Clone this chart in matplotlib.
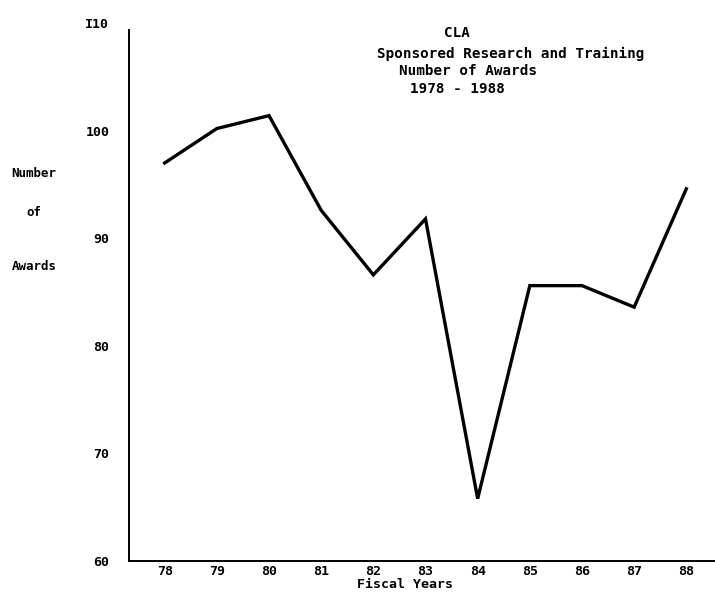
import matplotlib.pyplot as plt

years = [78, 79, 80, 81, 82, 83, 84, 85, 86, 87, 88]
awards = [97.0, 100.2, 101.4, 92.6, 86.6, 91.8, 65.8, 85.6, 85.6, 83.6, 94.6]
ytick_vals = [60, 70, 80, 90, 100, 110]
ytick_labels = ['60', '70', '80', '90', '100', 'I10']
title_lines = ['CLA', 'Sponsored Research and Training', 'Number of Awards', '1978 - 1988']

font = dict(family='DejaVu Sans Mono', weight='bold')

fig = plt.figure(figsize=(7.15, 5.95), dpi=100)
ax = fig.add_axes([0.180, 0.057, 0.82, 0.9042])

ax.plot(years, awards, color='black', lw=2.4, solid_joinstyle='miter')

ax.set_xlim(77.31, 88.55)
ax.set_ylim(60, 110)
ax.spines['top'].set_visible(False)
ax.spines['right'].set_visible(False)
ax.spines['left'].set_bounds(60, 109.4)
ax.spines['left'].set_linewidth(1.4)
ax.spines['bottom'].set_linewidth(1.4)

ax.set_xticks(years)
ax.set_xticklabels([str(y) for y in years], fontsize=9.5, **font)
ax.set_yticks(ytick_vals)
ax.set_yticklabels(ytick_labels, fontsize=9.5, **font)
ax.tick_params(axis='both', length=0)
ax.tick_params(axis='y', pad=14)
ax.tick_params(axis='x', pad=3)

fig.text(0.566, 1 - 585 / 595, 'Fiscal Years', ha='center', va='center', fontsize=9.5, **font)

# y label as three stacked words
for word, ypx in [('Number', 173), ('of', 212), ('Awards', 267)]:
    fig.text(34 / 715, 1 - ypx / 595, word, ha='center', va='center', fontsize=9, **font)

# title block, each line placed like the original
for line, xpx, ypx in zip(title_lines, [457, 511, 468, 457], [33, 54, 71, 89]):
    fig.text(xpx / 715, 1 - ypx / 595, line, ha='center', va='center', fontsize=10.3, **font)

fig.savefig('out.png', dpi=100)
